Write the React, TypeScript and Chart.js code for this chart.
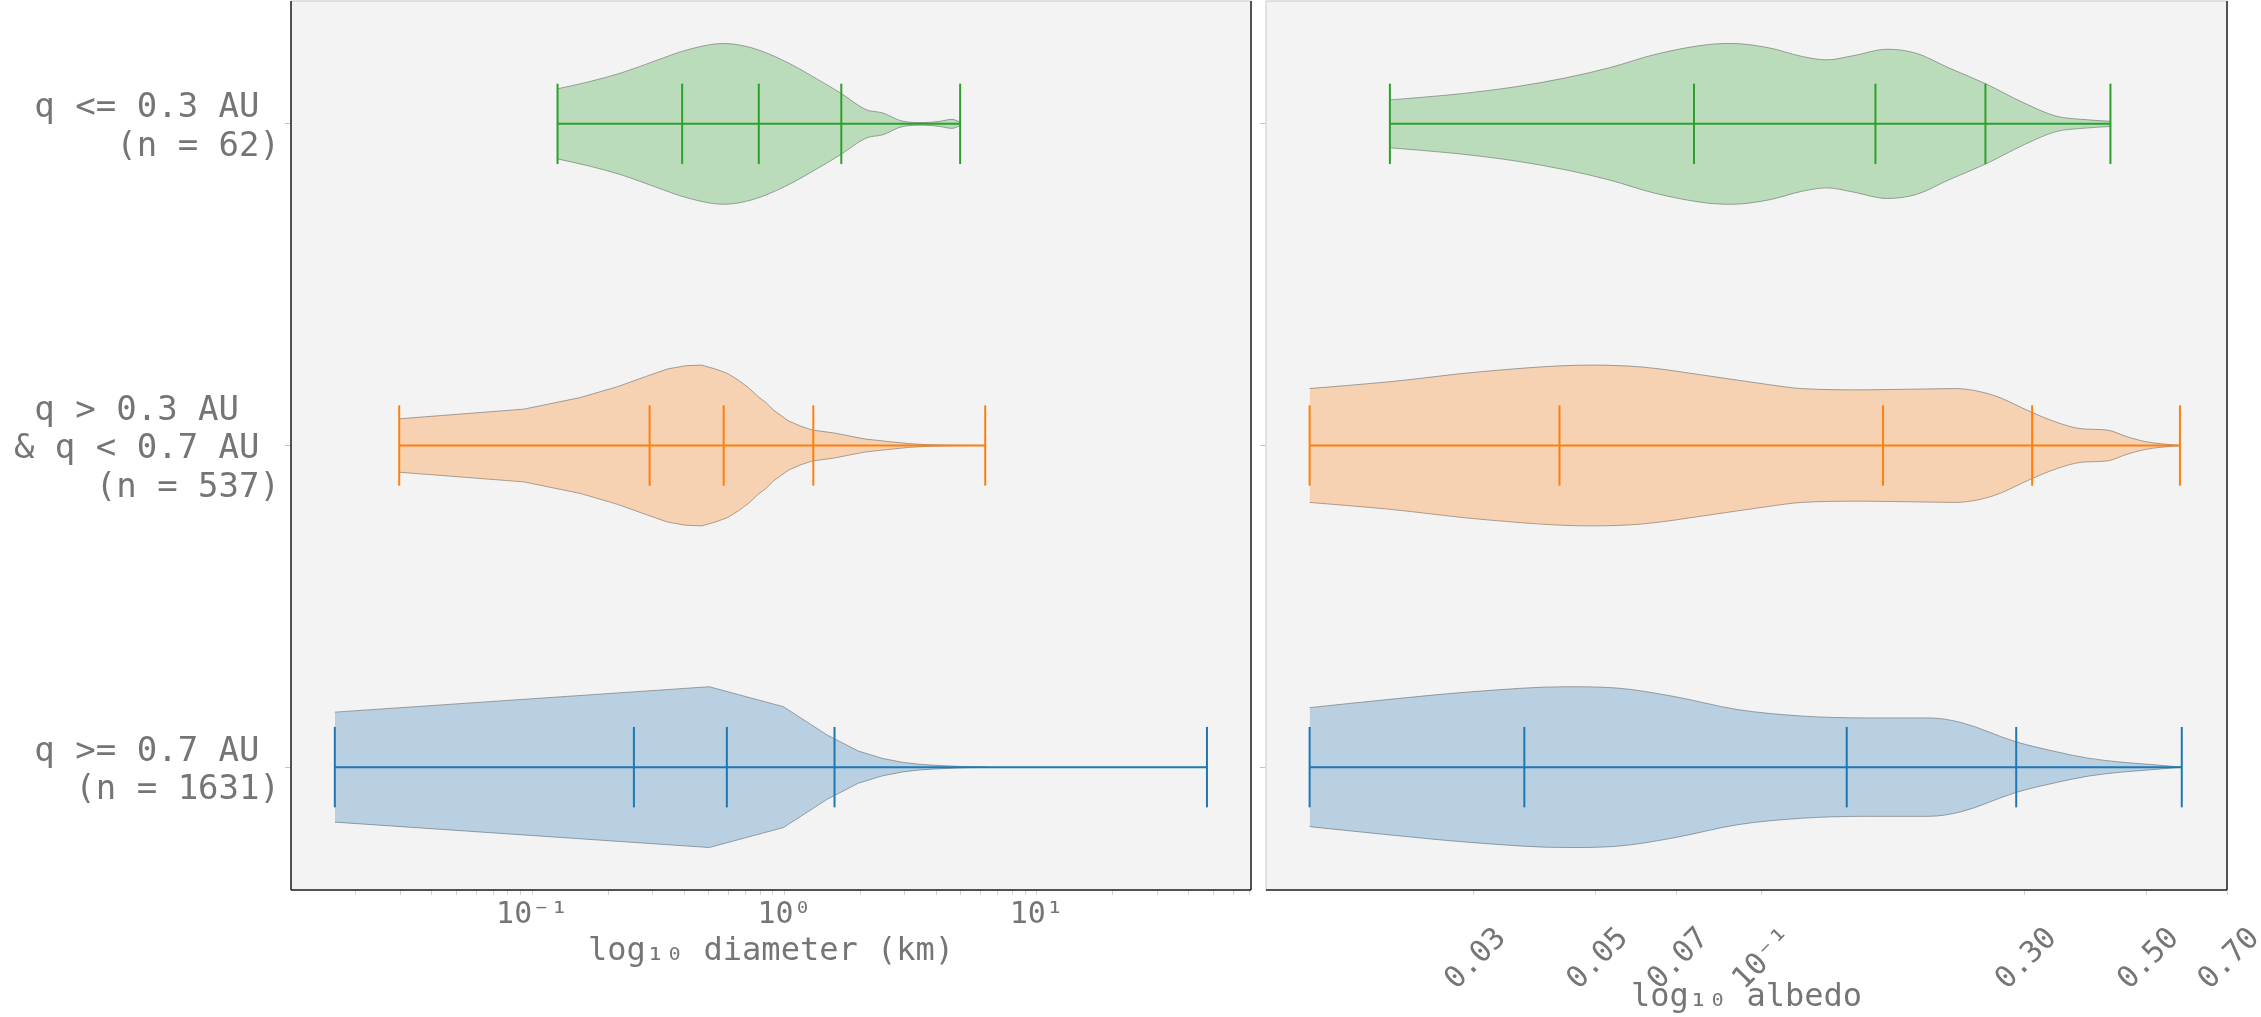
import React, { useEffect, useRef } from 'react';
import { Chart, registerables } from 'chart.js';

Chart.register(...registerables);

// ---------------- categories (bottom to top) ----------------
const groupPositions = [1, 2, 3];
const groupLabels: string[][] = [
  ['q >= 0.7 AU ', '(n = 1631)'],
  ['q > 0.3 AU  ', '& q < 0.7 AU ', '(n = 537)'],
  ['q <= 0.3 AU ', '(n = 62)'],
];
const groupColors = ['#1f77b4', '#ff7f0e', '#2ca02c'];

// ---------------- diameter (km) ----------------
// stats: [min, q1, median, q3, max]
const diamFarStats = [0.0165, 0.253, 0.591, 1.579, 47.3];
const diamMidStats = [0.0297, 0.292, 0.574, 1.301, 6.25];
const diamNearStats = [0.126, 0.393, 0.791, 1.68, 4.97];

// violin outline: sample values and half-widths (density scaled to 0.25)
const diamFarValues = [0.0165, 0.503, 0.99, 1.476, 1.963, 2.45, 2.936, 3.42, 3.91, 4.4, 4.88, 5.37, 5.86, 6.35];
const diamFarWidths = [0.171, 0.25, 0.188, 0.1, 0.05, 0.027, 0.015, 0.009, 0.006, 0.004, 0.0025, 0.0015, 0.0008, 0];

const diamMidValues = [0.0297, 0.0925, 0.155, 0.218, 0.281, 0.344, 0.406, 0.469, 0.532, 0.595, 0.657, 0.72, 0.783, 0.846, 0.908, 0.971, 1.034, 1.16, 1.29, 1.41, 1.6, 1.85, 2.1, 2.6, 3.1, 3.6, 4.2, 5.0, 6.25];
const diamMidWidths = [0.083, 0.113, 0.149, 0.183, 0.214, 0.238, 0.248, 0.25, 0.238, 0.224, 0.203, 0.18, 0.153, 0.133, 0.109, 0.093, 0.077, 0.06, 0.048, 0.044, 0.038, 0.028, 0.02, 0.012, 0.006, 0.003, 0.0012, 0.0004, 0];

const diamNearValues = [0.126, 0.168, 0.2265, 0.305, 0.411, 0.574, 0.745, 1.003, 1.35, 1.675, 2.11, 2.45, 2.95, 3.55, 4.12, 4.61, 4.97];
const diamNearWidths = [0.109, 0.131, 0.159, 0.195, 0.23, 0.25, 0.236, 0.195, 0.139, 0.095, 0.044, 0.034, 0.008, 0.004, 0.008, 0.014, 0.006];

// ---------------- albedo ----------------
const albFarStats = [0.01512, 0.0371, 0.1428, 0.29, 0.5794];
const albMidStats = [0.01512, 0.04297, 0.1662, 0.31, 0.575];
const albNearStats = [0.02115, 0.0754, 0.161, 0.255, 0.43];

const albFarValues = [0.01512, 0.02093, 0.0296, 0.0441, 0.0546, 0.0694, 0.0905, 0.1182, 0.1543, 0.2013, 0.23, 0.29, 0.3428, 0.3917, 0.4473, 0.511, 0.5794];
const albFarWidths = [0.185, 0.21, 0.234, 0.25, 0.246, 0.2196, 0.179, 0.159, 0.153, 0.153, 0.139, 0.0786, 0.048, 0.028, 0.016, 0.008, 0];

const albMidValues = [0.01512, 0.02093, 0.0312, 0.0491, 0.0607, 0.0793, 0.1034, 0.1182, 0.1543, 0.2239, 0.2628, 0.31, 0.3428, 0.3814, 0.4242, 0.4596, 0.4979, 0.575];
const albMidWidths = [0.177, 0.1975, 0.23, 0.25, 0.244, 0.2175, 0.189, 0.177, 0.173, 0.177, 0.157, 0.1026, 0.0726, 0.052, 0.048, 0.028, 0.012, 0];

const albNearValues = [0.02115, 0.02732, 0.03566, 0.04411, 0.0531, 0.064, 0.0793, 0.0882, 0.1034, 0.1182, 0.1315, 0.1462, 0.1693, 0.1909, 0.2182, 0.255, 0.3, 0.3428, 0.3814, 0.43];
const albNearWidths = [0.0745, 0.0906, 0.115, 0.143, 0.175, 0.2156, 0.2458, 0.25, 0.236, 0.21, 0.199, 0.2115, 0.232, 0.2196, 0.175, 0.125, 0.0645, 0.024, 0.014, 0.008];

// ---------------- tick labels ----------------
const diamMajorTicks = [0.1, 1, 10];
const diamMajorLabels = ['10⁻¹', '10⁰', '10¹'];
const diamMinorTicks = [0.02, 0.03, 0.04, 0.05, 0.06, 0.07, 0.08, 0.09, 0.2, 0.3, 0.4, 0.5, 0.6, 0.7, 0.8, 0.9, 2, 3, 4, 5, 6, 7, 8, 9, 20, 30, 40, 50, 60, 70];
const albTicks = [0.03, 0.05, 0.07, 0.1, 0.3, 0.5, 0.7];
const albTickLabels = ['0.03', '0.05', '0.07', '10⁻¹', '0.30', '0.50', '0.70'];

// ---------------- styling ----------------
const FONT = "'DejaVu Sans Mono', monospace";
const TEXT = '#757575';
const EDGE = 'rgba(105,105,105,0.6)';
const TICK_HALF = 0.125;

type Violin = { pos: number; color: string; values: number[]; widths: number[]; stats: number[]; smooth: boolean };

function rgba(hex: string, a: number) {
  const n = parseInt(hex.slice(1), 16);
  return `rgba(${(n >> 16) & 255},${(n >> 8) & 255},${n & 255},${a})`;
}

function buildDatasets(violins: Violin[]) {
  const ds: any[] = [];
  violins.forEach((v) => {
    const curve = v.smooth ? { cubicInterpolationMode: 'monotone' } : { tension: 0 };
    ds.push({
      data: v.values.map((x, i) => ({ x, y: v.pos + v.widths[i] })),
      fill: '+1',
      backgroundColor: rgba(v.color, 0.28),
      borderColor: EDGE,
      borderWidth: 1,
      order: 2,
      ...curve,
    });
    ds.push({
      data: v.values.map((x, i) => ({ x, y: v.pos - v.widths[i] })),
      fill: false,
      borderColor: EDGE,
      borderWidth: 1,
      order: 2,
      ...curve,
    });
  });
  violins.forEach((v) => {
    ds.push({
      data: [{ x: v.stats[0], y: v.pos }, { x: v.stats[4], y: v.pos }],
      fill: false,
      borderColor: v.color,
      borderWidth: 2,
      order: 1,
    });
    v.stats.forEach((s) => {
      ds.push({
        data: [{ x: s, y: v.pos - TICK_HALF }, { x: s, y: v.pos + TICK_HALF }],
        fill: false,
        borderColor: v.color,
        borderWidth: 2,
        order: 1,
      });
    });
  });
  return ds;
}

function panelPlugin(spines: { top: string; left: string; right: string; bottom: string }) {
  return {
    id: 'panel',
    beforeDraw(chart: any) {
      const { ctx, chartArea } = chart;
      const { left, top, right, bottom } = chartArea;
      ctx.save();
      ctx.fillStyle = '#f3f3f3';
      ctx.fillRect(left, top, right - left, bottom - top);
      ctx.restore();
    },
    afterDraw(chart: any) {
      const { ctx, chartArea } = chart;
      const { left, top, right, bottom } = chartArea;
      const line = (x1: number, y1: number, x2: number, y2: number, c: string) => {
        ctx.beginPath();
        ctx.strokeStyle = c;
        ctx.lineWidth = 1.5;
        ctx.moveTo(x1, y1);
        ctx.lineTo(x2, y2);
        ctx.stroke();
      };
      ctx.save();
      line(left, top, right, top, spines.top);
      line(left, top, left, bottom, spines.left);
      line(right, top, right, bottom, spines.right);
      line(left, bottom, right, bottom, spines.bottom);
      ctx.restore();
    },
  };
}

function yScale(width: number, showLabels: boolean) {
  return {
    type: 'linear',
    min: 0.618,
    max: 3.382,
    bounds: 'data',
    afterBuildTicks: (s: any) => {
      s.ticks = groupPositions.map((v) => ({ value: v }));
    },
    afterFit: (s: any) => {
      s.width = width;
      s.paddingTop = 0;
      s.paddingBottom = 0;
    },
    ticks: {
      autoSkip: false,
      padding: 5,
      labelOffset: 4,
      color: TEXT,
      font: { family: FONT, size: 34, lineHeight: 1.13 },
      callback: (value: number) => {
        const i = groupPositions.indexOf(value);
        return showLabels && i >= 0 ? groupLabels[i] : '';
      },
    },
    grid: { drawOnChartArea: false, drawTicks: true, tickLength: 6, color: '#c4c4c4' },
    border: { display: false },
  };
}

export default function App() {
  const leftRef = useRef<HTMLCanvasElement>(null);
  const rightRef = useRef<HTMLCanvasElement>(null);

  useEffect(() => {
    const diamViolins: Violin[] = [
      { pos: groupPositions[0], color: groupColors[0], values: diamFarValues, widths: diamFarWidths, stats: diamFarStats, smooth: false },
      { pos: groupPositions[1], color: groupColors[1], values: diamMidValues, widths: diamMidWidths, stats: diamMidStats, smooth: false },
      { pos: groupPositions[2], color: groupColors[2], values: diamNearValues, widths: diamNearWidths, stats: diamNearStats, smooth: true },
    ];
    const albViolins: Violin[] = [
      { pos: groupPositions[0], color: groupColors[0], values: albFarValues, widths: albFarWidths, stats: albFarStats, smooth: true },
      { pos: groupPositions[1], color: groupColors[1], values: albMidValues, widths: albMidWidths, stats: albMidStats, smooth: true },
      { pos: groupPositions[2], color: groupColors[2], values: albNearValues, widths: albNearWidths, stats: albNearStats, smooth: true },
    ];

    const baseOptions = {
      animation: false,
      responsive: true,
      maintainAspectRatio: false,
      events: [],
      elements: { point: { radius: 0 } },
      plugins: { legend: { display: false }, tooltip: { enabled: false } },
    };

    const left = new Chart(leftRef.current!, {
      type: 'line',
      data: { datasets: buildDatasets(diamViolins) },
      options: {
        ...baseOptions,
        layout: { padding: { left: 0, right: 8, top: 1, bottom: 0 } },
        scales: {
          x: {
            type: 'logarithmic',
            min: 0.01106,
            max: 70.7,
            bounds: 'data',
            afterBuildTicks: (s: any) => {
              s.ticks = [...diamMinorTicks, ...diamMajorTicks].sort((a, b) => a - b).map((v) => ({ value: v }));
            },
            afterFit: (s: any) => {
              s.height = 127;
              s.paddingLeft = 0;
              s.paddingRight = 0;
            },
            ticks: {
              autoSkip: false,
              minRotation: 0,
              maxRotation: 0,
              padding: 2,
              color: TEXT,
              font: { family: FONT, size: 30 },
              callback: (value: number) => {
                const i = diamMajorTicks.findIndex((t) => Math.abs(t - value) < 1e-9);
                return i >= 0 ? diamMajorLabels[i] : '';
              },
            },
            grid: { drawOnChartArea: false, drawTicks: true, tickLength: 5, color: '#d4d4d4' },
            border: { display: false },
            title: {
              display: true,
              text: 'log₁₀ diameter (km)',
              color: TEXT,
              font: { family: FONT, size: 32, lineHeight: 1.2 },
              padding: { top: 0, bottom: 46 },
            },
          },
          y: yScale(291, true),
        },
      } as any,
      plugins: [panelPlugin({ top: '#d8d8d8', left: '#1a1a1a', right: '#1a1a1a', bottom: '#1a1a1a' })],
    } as any);

    const right = new Chart(rightRef.current!, {
      type: 'line',
      data: { datasets: buildDatasets(albViolins) },
      options: {
        ...baseOptions,
        layout: { padding: { left: 0, right: 34, top: 1, bottom: 0 } },
        scales: {
          x: {
            type: 'logarithmic',
            min: 0.0126,
            max: 0.7,
            bounds: 'data',
            afterBuildTicks: (s: any) => {
              s.ticks = albTicks.map((v) => ({ value: v }));
            },
            afterFit: (s: any) => {
              s.height = 127;
              s.paddingLeft = 0;
              s.paddingRight = 0;
            },
            ticks: {
              autoSkip: false,
              minRotation: 45,
              maxRotation: 45,
              labelOffset: 28,
              padding: 26,
              color: TEXT,
              font: { family: FONT, size: 30 },
              callback: (value: number) => {
                const i = albTicks.findIndex((t) => Math.abs(t - value) < 1e-9);
                return i >= 0 ? albTickLabels[i] : '';
              },
            },
            grid: { drawOnChartArea: false, drawTicks: true, tickLength: 5, color: '#d4d4d4' },
            border: { display: false },
            title: {
              display: true,
              text: 'log₁₀ albedo',
              color: TEXT,
              font: { family: FONT, size: 32, lineHeight: 1.2 },
              padding: { top: 0, bottom: 0 },
            },
          },
          y: yScale(7, false),
        },
      } as any,
      plugins: [panelPlugin({ top: '#d8d8d8', left: '#d8d8d8', right: '#1a1a1a', bottom: '#1a1a1a' })],
    } as any);

    return () => {
      left.destroy();
      right.destroy();
    };
  }, []);

  return (
    <div style={{ position: 'absolute', left: 0, top: 0, width: 2261, height: 1017, background: '#ffffff', overflow: 'hidden' }}>
      <div style={{ position: 'absolute', left: 0, top: 0, width: 1259, height: 1017 }}>
        <canvas ref={leftRef} />
      </div>
      <div style={{ position: 'absolute', left: 1259, top: 0, width: 1002, height: 1017 }}>
        <canvas ref={rightRef} />
      </div>
    </div>
  );
}
